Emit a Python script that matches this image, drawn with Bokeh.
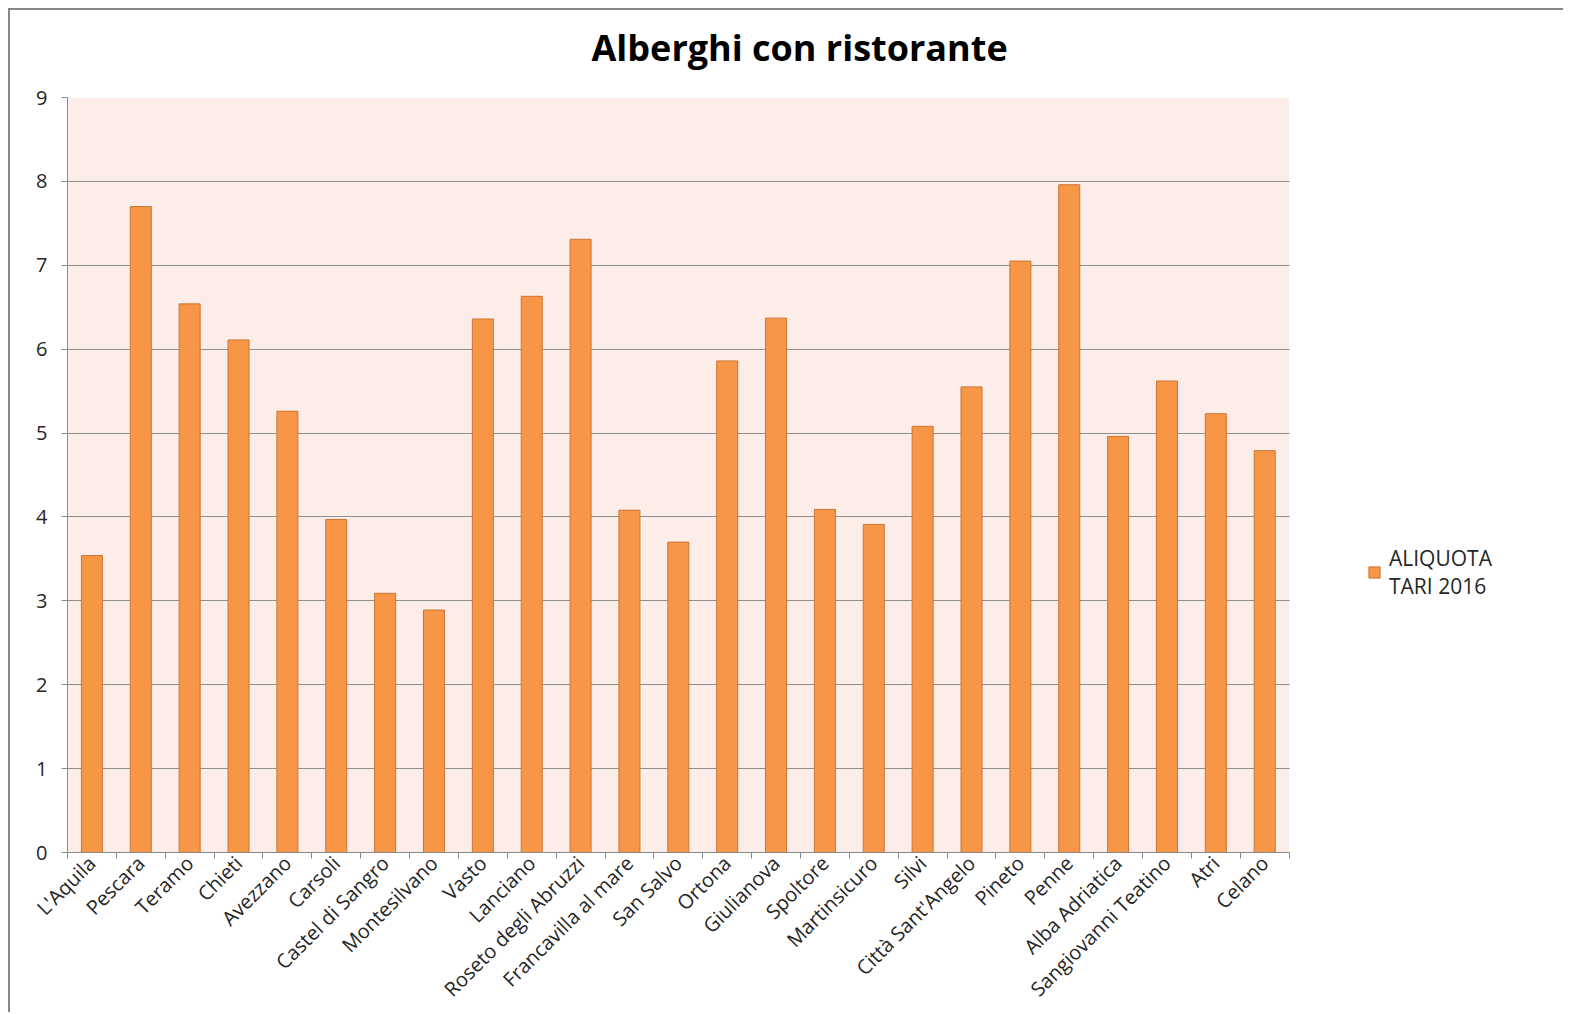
from bokeh.plotting import figure
from bokeh.models import FixedTicker, Legend, LegendItem, ColumnDataSource, BoxAnnotation, Title
from bokeh.embed import file_html
from bokeh.resources import INLINE

categories = ["L'Aquila", "Pescara", "Teramo", "Chieti", "Avezzano", "Carsoli",
              "Castel di Sangro", "Montesilvano", "Vasto", "Lanciano",
              "Roseto degli Abruzzi", "Francavilla al mare", "San Salvo", "Ortona",
              "Giulianova", "Spoltore", "Martinsicuro", "Silvi", "Città Sant'Angelo",
              "Pineto", "Penne", "Alba Adriatica", "Sangiovanni Teatino", "Atri", "Celano"]
aliquota_tari_2016 = [3.54, 7.70, 6.54, 6.11, 5.26, 3.97, 3.09, 2.89, 6.36, 6.63,
                      7.31, 4.08, 3.70, 5.86, 6.37, 4.09, 3.91, 5.08, 5.55,
                      7.05, 7.96, 4.96, 5.62, 5.23, 4.79]
y_ticks = [0, 1, 2, 3, 4, 5, 6, 7, 8, 9]
series_name = "ALIQUOTA\nTARI 2016"
title_text = "Alberghi con ristorante"

n = len(categories)
positions = list(range(n))
source = ColumnDataSource(data=dict(x=positions, top=aliquota_tari_2016, name=categories))

FONT = "Open Sans"
TEXT = "#262626"

# plot area spans 1220 px for the categories; extra room on the right holds the legend
PX_PER_CAT = 1220 / n
EXTRA = 276 / PX_PER_CAT
x_lo, x_hi = -0.5, n - 0.5

p = figure(width=1555, height=1004, output_backend="svg", toolbar_location=None,
           x_range=(x_lo, x_hi + EXTRA), y_range=(y_ticks[0], y_ticks[-1]),
           min_border_left=57, min_border_right=0, min_border_top=87,
           min_border_bottom=162)
p.styles = {"border-left": "2px solid #878787", "border-top": "2px solid #878787",
            "margin-left": "8px", "margin-top": "8px"}

p.background_fill_color = "white"
p.border_fill_color = "white"
p.outline_line_color = None

bg = BoxAnnotation(left=x_lo, right=x_hi, bottom=y_ticks[0], top=y_ticks[-1],
                   fill_color="#FCEDE8", fill_alpha=1, line_color=None, level="image")
p.add_layout(bg)

r = p.vbar(x="x", top="top", width=0.43, bottom=0, source=source,
           fill_color="#F79646", line_color="#CD7434", line_width=1)

# spacer between title and plot area
spacer = Title(text=" ", text_font_size="2px", standoff=22)
p.add_layout(spacer, "above")

# title
p.title.text = title_text
p.title.text_font = FONT
p.title.text_font_size = "36px"
p.title.text_font_style = "bold"
p.title.text_color = "black"
p.title.align = "left"
p.title.vertical_align = "bottom"
p.title.offset = 524
p.title.standoff = 0

# y axis
yax = p.yaxis[0]
yax.ticker = FixedTicker(ticks=y_ticks, minor_ticks=[])
yax.axis_line_color = "#8a8a8a"
yax.major_tick_line_color = "#8a8a8a"
yax.major_tick_out = 6
yax.major_tick_in = 0
yax.major_label_text_font = FONT
yax.major_label_text_font_size = "20px"
yax.major_label_text_color = TEXT
yax.major_label_standoff = 14

# x axis
xax = p.xaxis[0]
xax.bounds = (x_lo, x_hi)
xax.ticker = FixedTicker(ticks=positions, minor_ticks=[i - 0.5 for i in range(n + 1)])
xax.major_label_overrides = {i: c for i, c in zip(positions, categories)}
xax.axis_line_color = "#8a8a8a"
xax.major_tick_line_color = None
xax.minor_tick_line_color = "#8a8a8a"
xax.minor_tick_out = 6
xax.minor_tick_in = 0
xax.major_label_orientation = 0.785398
xax.major_label_text_font = FONT
xax.major_label_text_font_size = "20px"
xax.major_label_text_color = TEXT
xax.major_label_standoff = 1

p.xgrid.grid_line_color = None
use_grid = True
try:
    p.ygrid.cross_bounds = (x_lo, x_hi)
except Exception:
    use_grid = False
if use_grid:
    p.ygrid.ticker = FixedTicker(ticks=y_ticks)
    p.ygrid.grid_line_color = "#8f8f8f"
    p.ygrid.grid_line_width = 1
else:
    p.ygrid.grid_line_color = None
    p.segment(x0=[x_lo] * len(y_ticks), x1=[x_hi] * len(y_ticks), y0=y_ticks, y1=y_ticks,
              line_color="#8f8f8f", line_width=1, level="underlay")

legend = Legend(items=[LegendItem(label=series_name, renderers=[r])],
                location=(1300, 252), border_line_color=None, background_fill_alpha=0,
                label_text_font=FONT, label_text_font_size="21px", label_text_color=TEXT,
                label_text_line_height=1.0,
                glyph_width=14, glyph_height=14, padding=0, margin=0, label_standoff=8)
p.add_layout(legend)

open("out.html", "w").write(file_html(p, INLINE))
